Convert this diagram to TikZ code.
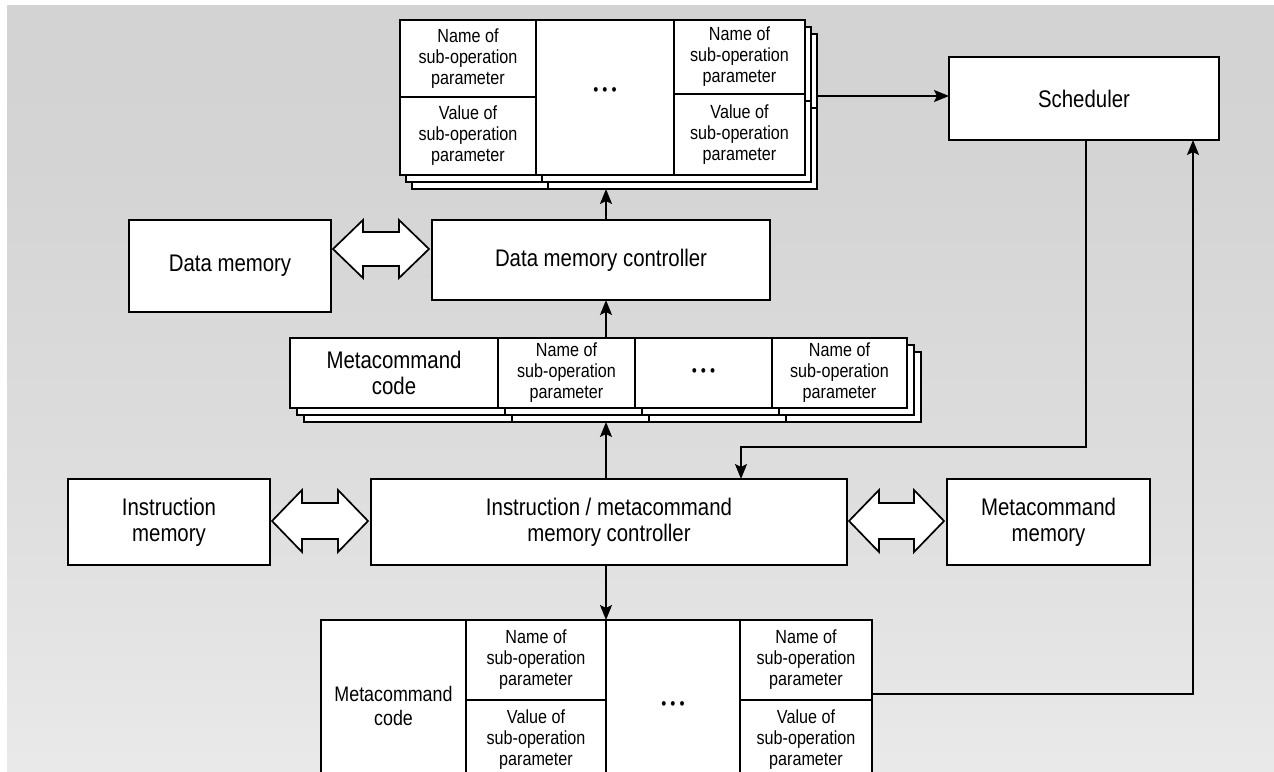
\documentclass[tikz,border=0pt]{standalone}
\usepackage{fontspec}
\setmainfont{Liberation Sans}[FakeStretch=0.85]
\usetikzlibrary{arrows.meta,calc}
\definecolor{bgA}{RGB}{251,251,251}
\definecolor{bgB}{RGB}{244,244,244}
\definecolor{bgC}{RGB}{230,230,230}
\definecolor{bgD}{RGB}{221,221,221}
\definecolor{bgE}{RGB}{212,212,212}
\definecolor{bgF}{RGB}{207,207,207}
\pgfdeclareverticalshading{bgshade}{100bp}{color(0bp)=(bgA); color(10bp)=(bgB); color(30bp)=(bgC); color(45bp)=(bgD); color(65bp)=(bgE); color(100bp)=(bgF)}
\newcommand\dblarrow[4]{\draw[dbl] (#1) -- ++(30,-#3) -- ++(0,#3-#4) -- ($(#2)+(-30,-#4)$) -- ++(0,#4-#3) -- (#2) -- ++(-30,#3) -- ++(0,#4-#3) -- ($(#1)+(30,#4)$) -- ++(0,#3-#4) -- cycle;}
\tikzset{
  box/.style={draw, fill=white, line width=2pt, inner sep=0pt, outer sep=0pt, align=center, anchor=north west, font=\fontsize{24}{26}\selectfont},
  small/.style={font=\fontsize{19}{21}\selectfont},
  mid/.style={font=\fontsize{21}{24}\selectfont},
  dots/.style={font=\fontsize{17}{17}\selectfont},
  layer/.style={draw, fill=white, line width=2pt, inner sep=0pt, outer sep=0pt, anchor=north west},
  divline/.style={line width=2pt},
  arr/.style={line width=2pt, -{Stealth[length=15pt,width=12pt,inset=3pt]}},
  dbl/.style={draw, fill=white, line width=1.7pt, line join=miter},
}
\newcommand\dotstext{\textbullet\hspace{4pt}\textbullet\hspace{4pt}\textbullet}
\newcommand\nameof{Name of\\sub-operation\\parameter}
\newcommand\valueof{Value of\\sub-operation\\parameter}
\begin{document}
\begin{tikzpicture}[x=1pt, y=-1pt, line join=miter]
\useasboundingbox (0,0) rectangle (1274,771);
\shade[shading=bgshade] (7,5) rectangle (1274,771);

% ---------- top block (stacked) ----------
\node[layer, minimum width=405, minimum height=155] (top3) at (412,34) {};
\draw[divline] (548,34) -- (548,189);
\draw[divline] (686,108) -- (817,108);
\node[layer, minimum width=405, minimum height=155] (top2) at (406,27) {};
\draw[divline] (542,27) -- (542,182);
\draw[divline] (680,101) -- (811,101);
\node[box, small, minimum width=136, minimum height=77] (t1n) at (400,20) {\nameof};
\node[box, small, minimum width=136, minimum height=78] (t1v) at (400,97) {\valueof};
\node[box, minimum width=138, minimum height=155] (tdots) at (536,20) {};
\node[dots, inner sep=0pt] (tdotstext) at ($(tdots.center)+(0,-6)$) {\dotstext};
\node[box, small, minimum width=131, minimum height=74] (t2n) at (674,20) {\nameof};
\node[box, small, minimum width=131, minimum height=81] (t2v) at (674,94) {\valueof};

% ---------- scheduler ----------
\node[box, minimum width=270, minimum height=83] (sched) at (949,57) {Scheduler};

% ---------- data memory row ----------
\node[box, minimum width=202, minimum height=92] (dm) at (129,220) {Data memory};
\node[box, minimum width=338, minimum height=80] (dmc) at (432,220) {Data memory controller};

% ---------- middle block (stacked) ----------
\node[layer, minimum width=617, minimum height=70] (mid3) at (304,352) {};
\foreach \x in {512,649,786} \draw[divline] (\x,352) -- (\x,422);
\node[layer, minimum width=617, minimum height=70] (mid2) at (297,345) {};
\foreach \x in {505,642,779} \draw[divline] (\x,345) -- (\x,415);
\node[box, minimum width=208, minimum height=70] (m1) at (290,338) {Metacommand\\code};
\node[box, small, minimum width=137, minimum height=70] (m2) at (498,338) {\nameof};
\node[box, dots, minimum width=137, minimum height=70] (m3) at (635,338) {\dotstext};
\node[box, small, minimum width=135, minimum height=70] (m4) at (772,338) {\nameof};

% ---------- instruction row ----------
\node[box, minimum width=202, minimum height=86] (im) at (68,479) {Instruction\\memory};
\node[box, minimum width=476, minimum height=86] (imc) at (371,479) {Instruction / metacommand\\memory controller};
\node[box, minimum width=203, minimum height=86] (mm) at (947,479) {Metacommand\\memory};

% ---------- bottom block ----------
\begin{scope}
\clip (0,0) rectangle (1274,771);
\node[box, mid, minimum width=145, minimum height=172] (b1) at (321,620) {Metacommand\\code};
\node[box, small, minimum width=140, minimum height=80] (b2n) at (466,620) {\nameof};
\node[box, small, minimum width=140, minimum height=80] (b2v) at (466,700) {\valueof};
\node[box, dots, minimum width=134, minimum height=172] (b3) at (606,620) {\dotstext};
\node[box, small, minimum width=132, minimum height=80] (b4n) at (740,620) {\nameof};
\node[box, small, minimum width=132, minimum height=80] (b4v) at (740,700) {\valueof};
\draw[divline] (b2v.south west) -- ++(0,20);
\draw[divline] (b4v.south west) -- ++(0,20);
\draw[divline] (b4v.south east) -- ++(0,20);
\draw[draw=white, line width=3pt] ($(b2v.south west)+(1.5,0)$) -- ($(b2v.south east)+(-1,0)$);
\draw[draw=white, line width=3pt] ($(b4v.south west)+(1.5,0)$) -- ($(b4v.south east)+(-1.5,0)$);
\end{scope}

% ---------- double arrows ----------
\coordinate (yA) at (0,249);
\coordinate (yB) at (0,521);
\coordinate (dl1) at ($(dm.east |- yA)+(2,0)$);
\coordinate (dr1) at ($(dmc.west |- yA)+(-3,0)$);
\coordinate (dl2) at ($(im.east |- yB)+(2,0)$);
\coordinate (dr2) at ($(imc.west |- yB)+(-3,0)$);
\coordinate (dl3) at ($(imc.east |- yB)+(2,0)$);
\coordinate (dr3) at ($(mm.west |- yB)+(-3,0)$);
\dblarrow{dl1}{dr1}{29}{17}
\dblarrow{dl2}{dr2}{31}{18}
\dblarrow{dl3}{dr3}{31}{18}

% ---------- arrows ----------
\coordinate (ax) at (606,0);
\coordinate (yS) at (0,96);
\draw[arr] (ax |- dmc.north) -- (ax |- top3.south);
\draw[arr] (ax |- m1.north) -- (ax |- dmc.south);
\draw[arr] (ax |- imc.north) -- (ax |- mid3.south);
\draw[arr] (ax |- imc.south) -- (ax |- b3.north);
\draw[arr] (top3.east |- yS) -- (sched.west |- yS);
\coordinate (s1) at (1086,0);
\coordinate (s2) at (741,447);
\draw[arr] (s1 |- sched.south) |- (s2) -- (s2 |- imc.north);
\coordinate (s3) at (1193,694);
\draw[arr] (b4n.east |- s3) -- (s3) -- (s3 |- sched.south);
\end{tikzpicture}
\end{document}
